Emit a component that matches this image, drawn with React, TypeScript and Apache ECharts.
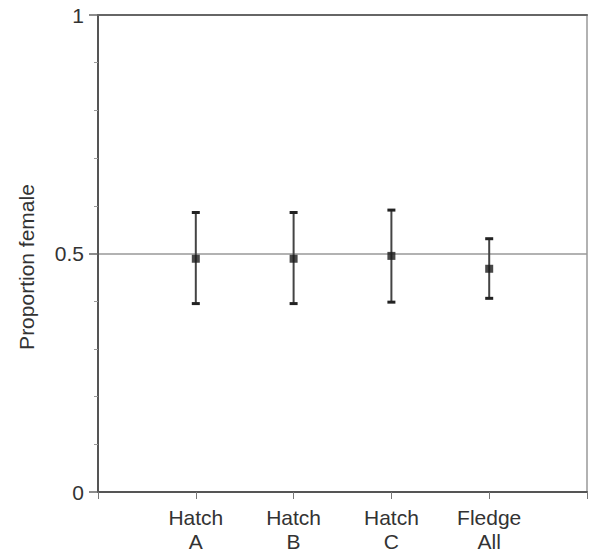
import React, { useEffect, useRef } from "react";
import * as echarts from "echarts";

const categories = ["Hatch\nA", "Hatch\nB", "Hatch\nC", "Fledge\nAll"];
const means = [0.489, 0.489, 0.495, 0.468];
const lower = [0.395, 0.395, 0.398, 0.406];
const upper = [0.586, 0.586, 0.591, 0.531];
const yTicks = [0, 0.5, 1];
const yLabels = ["0", "0.5", "1"];
const yName = "Proportion female";

export default function App() {
  const ref = useRef<HTMLDivElement>(null);
  useEffect(() => {
    if (!ref.current) return;
    const chart = echarts.init(ref.current, null, { renderer: "svg" });
    const font = "Liberation Sans, Arial, sans-serif";
    const errData = categories.map((_, i) => [i + 1, lower[i], upper[i]]);
    const meanData = categories.map((_, i) => [i + 1, means[i]]);
    chart.setOption({
      animation: false,
      backgroundColor: "#ffffff",
      grid: { left: 98, right: 1, top: 15, bottom: 61, containLabel: false },
      xAxis: [
        {
          type: "value",
          min: 0,
          max: categories.length + 1,
          interval: 1,
          axisLine: { show: true, onZero: false, lineStyle: { color: "#555", width: 2 } },
          axisTick: { show: true, length: 7, lineStyle: { color: "#777", width: 1 } },
          splitLine: { show: false },
          axisLabel: {
            fontFamily: font,
            fontSize: 21,
            lineHeight: 24,
            color: "#333",
            margin: 13,
            formatter: (v: number) =>
              v >= 1 && v <= categories.length ? categories[Math.round(v) - 1] : "",
          },
        },
        {
          type: "value",
          position: "top",
          min: 0,
          max: categories.length + 1,
          axisLine: { show: true, onZero: false, lineStyle: { color: "#666", width: 2 } },
          axisTick: { show: false },
          axisLabel: { show: false },
          splitLine: { show: false },
        },
      ],
      yAxis: [
        {
          type: "value",
          min: 0,
          max: 1,
          interval: 0.5,
          axisLine: { show: true, onZero: false, lineStyle: { color: "#555", width: 2 } },
          axisTick: { show: true, length: 9, lineStyle: { color: "#666", width: 1.5 } },
          minorTick: { show: true, splitNumber: 5, length: 4, lineStyle: { color: "#999", width: 1 } },
          splitLine: { show: true, lineStyle: { color: "#999", width: 1.5 } },
          axisLabel: {
            fontFamily: font,
            fontSize: 21,
            color: "#333",
            margin: 14,
            formatter: (v: number) => {
              const idx = yTicks.findIndex((t) => Math.abs(t - v) < 1e-6);
              return idx >= 0 ? yLabels[idx] : "";
            },
          },
        },
        {
          type: "value",
          position: "right",
          min: 0,
          max: 1,
          axisLine: { show: true, onZero: false, lineStyle: { color: "#999", width: 1.5 } },
          axisTick: { show: false },
          axisLabel: { show: false },
          splitLine: { show: false },
        },
      ],
      graphic: [
        {
          type: "text",
          x: 26,
          y: 267,
          rotation: Math.PI / 2,
          style: {
            text: yName,
            fontFamily: font,
            fontSize: 21,
            fill: "#333",
            textAlign: "center",
            textVerticalAlign: "middle",
          },
        },
      ],
      series: [
        {
          type: "custom",
          xAxisIndex: 0,
          yAxisIndex: 0,
          data: errData,
          renderItem: (params: any, api: any) => {
            const x = api.value(0);
            const lo = api.coord([x, api.value(1)]);
            const hi = api.coord([x, api.value(2)]);
            const hw = 4;
            const style = { stroke: "#444", lineWidth: 2 };
            return {
              type: "group",
              children: [
                { type: "line", shape: { x1: lo[0], y1: lo[1], x2: hi[0], y2: hi[1] }, style },
                { type: "line", shape: { x1: lo[0] - hw, y1: lo[1], x2: lo[0] + hw, y2: lo[1] }, style: { stroke: "#222", lineWidth: 3 } },
                { type: "line", shape: { x1: hi[0] - hw, y1: hi[1], x2: hi[0] + hw, y2: hi[1] }, style: { stroke: "#222", lineWidth: 3 } },
              ],
            };
          },
          z: 3,
        },
        {
          type: "scatter",
          xAxisIndex: 0,
          yAxisIndex: 0,
          data: meanData,
          symbol: "rect",
          symbolSize: 8,
          itemStyle: { color: "#1a1a1a" },
          z: 4,
        },
      ],
    });
    return () => chart.dispose();
  }, []);
  return (
    <div
      ref={ref}
      style={{ position: "absolute", left: 0, top: 0, width: 590, height: 553 }}
    />
  );
}
